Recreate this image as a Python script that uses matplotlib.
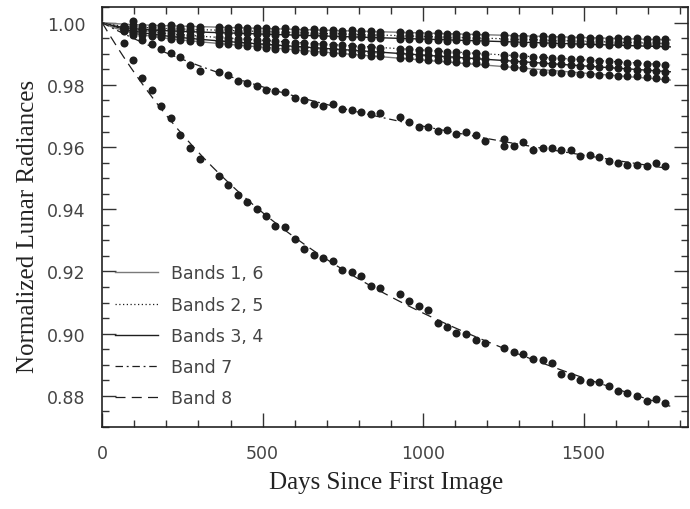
"""Relative lunar radiance trends per band, with fitted degradation curves."""

import matplotlib
matplotlib.use("Agg")
import matplotlib.pyplot as plt
import numpy as np
from matplotlib.ticker import MultipleLocator

# Observation epochs (days since first lunar image)
days = [68, 96, 125, 154, 183, 214, 244, 275, 304,
        363, 392, 422, 451, 481, 511, 540, 570, 600, 630, 659, 689, 718,
        748, 777, 808, 837, 867,
        927, 956, 986, 1015, 1046, 1075, 1104, 1134, 1164, 1193,
        1253, 1282, 1312, 1342, 1372, 1400, 1430, 1460, 1489, 1519, 1548,
        1578, 1607, 1636, 1666, 1696, 1726, 1755]

band1 = [0.9990, 1.0004, 0.9991, 0.9989, 0.9990, 0.9993, 0.9987, 0.9988, 0.9985,
         0.9986, 0.9984, 0.9985, 0.9983, 0.9982, 0.9983, 0.9980, 0.9982, 0.9979,
         0.9978, 0.9979, 0.9976, 0.9977, 0.9974, 0.9975, 0.9972, 0.9973, 0.9970,
         0.9969, 0.9967, 0.9968, 0.9965, 0.9966, 0.9963, 0.9964, 0.9962, 0.9963, 0.9960,
         0.9959, 0.9957, 0.9958, 0.9955, 0.9956, 0.9953, 0.9955, 0.9952, 0.9953,
         0.9951, 0.9952, 0.9949, 0.9950, 0.9948, 0.9950, 0.9947, 0.9948, 0.9946]
band2 = [0.9985, 0.9992, 0.9984, 0.9983, 0.9981, 0.9982, 0.9979, 0.9980, 0.9977,
         0.9976, 0.9977, 0.9974, 0.9975, 0.9972, 0.9973, 0.9971, 0.9969, 0.9970,
         0.9967, 0.9968, 0.9965, 0.9966, 0.9963, 0.9964, 0.9961, 0.9962, 0.9959,
         0.9958, 0.9956, 0.9957, 0.9954, 0.9955, 0.9952, 0.9953, 0.9950, 0.9951, 0.9948,
         0.9947, 0.9945, 0.9946, 0.9943, 0.9944, 0.9942, 0.9943, 0.9940, 0.9941,
         0.9939, 0.9940, 0.9938, 0.9939, 0.9937, 0.9938, 0.9936, 0.9937, 0.9936]
band3 = [0.9980, 0.9986, 0.9978, 0.9976, 0.9975, 0.9976, 0.9972, 0.9973, 0.9970,
         0.9969, 0.9968, 0.9966, 0.9967, 0.9964, 0.9965, 0.9962, 0.9963, 0.9960,
         0.9959, 0.9960, 0.9957, 0.9958, 0.9955, 0.9954, 0.9955, 0.9952, 0.9951,
         0.9949, 0.9946, 0.9947, 0.9944, 0.9945, 0.9942, 0.9943, 0.9940, 0.9941, 0.9939,
         0.9937, 0.9935, 0.9936, 0.9933, 0.9934, 0.9932, 0.9933, 0.9931, 0.9932,
         0.9930, 0.9931, 0.9929, 0.9930, 0.9928, 0.9929, 0.9927, 0.9928, 0.9926]
band4 = [0.9978, 0.9972, 0.9968, 0.9964, 0.9960, 0.9957, 0.9953, 0.9950, 0.9947,
         0.9942, 0.9940, 0.9937, 0.9935, 0.9932, 0.9930, 0.9928, 0.9925, 0.9923,
         0.9921, 0.9919, 0.9917, 0.9915, 0.9913, 0.9911, 0.9909, 0.9907, 0.9905,
         0.9902, 0.9900, 0.9897, 0.9895, 0.9893, 0.9891, 0.9889, 0.9887, 0.9885, 0.9883,
         0.9879, 0.9877, 0.9875, 0.9872, 0.9870, 0.9868, 0.9866, 0.9864, 0.9862,
         0.9860, 0.9858, 0.9856, 0.9854, 0.9851, 0.9849, 0.9847, 0.9844, 0.9842]
band5 = [0.9982, 0.9978, 0.9975, 0.9972, 0.9968, 0.9966, 0.9962, 0.9960, 0.9957,
         0.9953, 0.9951, 0.9948, 0.9947, 0.9944, 0.9943, 0.9940, 0.9938, 0.9936,
         0.9934, 0.9933, 0.9930, 0.9929, 0.9927, 0.9926, 0.9923, 0.9922, 0.9920,
         0.9917, 0.9915, 0.9913, 0.9911, 0.9910, 0.9907, 0.9906, 0.9903, 0.9902, 0.9900,
         0.9897, 0.9895, 0.9893, 0.9891, 0.9889, 0.9887, 0.9886, 0.9883, 0.9882,
         0.9880, 0.9878, 0.9876, 0.9875, 0.9872, 0.9871, 0.9868, 0.9866, 0.9863]
band6 = [0.9974, 0.9966, 0.9962, 0.9957, 0.9953, 0.9949, 0.9945, 0.9942, 0.9938,
         0.9933, 0.9930, 0.9927, 0.9925, 0.9922, 0.9919, 0.9917, 0.9914, 0.9912,
         0.9910, 0.9907, 0.9905, 0.9903, 0.9901, 0.9898, 0.9896, 0.9894, 0.9892,
         0.9888, 0.9886, 0.9883, 0.9881, 0.9879, 0.9876, 0.9874, 0.9872, 0.9869, 0.9866,
         0.9860, 0.9858, 0.9855, 0.9843, 0.9842, 0.9840, 0.9838, 0.9837, 0.9836,
         0.9834, 0.9833, 0.9832, 0.9830, 0.9829, 0.9827, 0.9824, 0.9822, 0.9820]
band7 = [0.9975, 0.9962, 0.9944, 0.9931, 0.9916, 0.9903, 0.9889, 0.9865, 0.9845,
         0.9840, 0.9831, 0.9811, 0.9806, 0.9798, 0.9785, 0.9780, 0.9777, 0.9759,
         0.9752, 0.9740, 0.9733, 0.9739, 0.9723, 0.9719, 0.9713, 0.9706, 0.9708,
         0.9696, 0.9680, 0.9666, 0.9666, 0.9653, 0.9655, 0.9641, 0.9648, 0.9639, 0.9618,
         0.9626, 0.9605, 0.9616, 0.9591, 0.9597, 0.9597, 0.9591, 0.9591, 0.9570,
         0.9575, 0.9567, 0.9554, 0.9549, 0.9541, 0.9541, 0.9538, 0.9549, 0.9540]
# band 7 was imaged twice in that lunation
band7_repeat_day = [1253]
band7_repeat_value = [0.9602]
band8 = [0.9936, 0.9880, 0.9822, 0.9782, 0.9731, 0.9692, 0.9638, 0.9597, 0.9562,
         0.9506, 0.9478, 0.9445, 0.9424, 0.9400, 0.9377, 0.9347, 0.9342, 0.9305,
         0.9273, 0.9252, 0.9244, 0.9232, 0.9204, 0.9199, 0.9185, 0.9154, 0.9146,
         0.9126, 0.9106, 0.9090, 0.9075, 0.9034, 0.9021, 0.9002, 0.9000, 0.8981, 0.8970,
         0.8954, 0.8941, 0.8933, 0.8917, 0.8915, 0.8907, 0.8869, 0.8864, 0.8852,
         0.8843, 0.8845, 0.8833, 0.8817, 0.8809, 0.8798, 0.8782, 0.8790, 0.8778]

GRAY = "#7a7a7a"
INK = "#1e1e1e"
TEXT = "#444444"
STYLES = {
    "Bands 1, 6": dict(color=GRAY, linestyle="-", lw=1.0),
    "Bands 2, 5": dict(color=INK, linestyle=(0, (1, 2)), lw=0.9),
    "Bands 3, 4": dict(color=INK, linestyle="-", lw=1.0),
    "Band 7": dict(color=INK, linestyle=(0, (6, 3, 1.5, 3)), lw=0.9),
    "Band 8": dict(color=INK, linestyle=(0, (8, 5)), lw=0.9),
}


def fit_decay(t, v, t_out):
    """Least-squares fit of 1 + a*(1 - exp(-t/tau)) + b*t, tau from a grid."""
    t = np.asarray(t, float)
    y = np.asarray(v, float) - 1.0
    best = None
    for tau in np.geomspace(20, 5000, 200):
        A = np.column_stack([1 - np.exp(-t / tau), t])
        coef = np.linalg.lstsq(A, y, rcond=None)[0]
        err = np.sum((A @ coef - y) ** 2)
        if best is None or err < best[0]:
            best = (err, tau, coef)
    _, tau, coef = best
    return 1.0 + coef[0] * (1 - np.exp(-t_out / tau)) + coef[1] * t_out


label_font = dict(family="Liberation Serif", size=18, color="#222222")
tick_font = "DejaVu Sans"

fig = plt.figure(figsize=(6.9, 5.1), dpi=100)
ax = fig.add_axes([0.148, 0.161, 0.849, 0.823])

t_fit = np.linspace(0, 1770, 400)
series = [
    (days, band1, "Bands 1, 6"),
    (days, band2, "Bands 2, 5"),
    (days, band3, "Bands 3, 4"),
    (days, band4, "Bands 3, 4"),
    (days, band5, "Bands 2, 5"),
    (days, band6, "Bands 1, 6"),
    (days + band7_repeat_day, band7 + band7_repeat_value, "Band 7"),
    (days, band8, "Band 8"),
]

handles = {}
for t, v, key in series:
    (line,) = ax.plot(t_fit, fit_decay(t, v, t_fit), zorder=2, **STYLES[key])
    handles.setdefault(key, line)
    ax.plot(t, v, "o", color=INK, ms=5.8, mec="none", zorder=3)

ax.set_xlim(0, 1825)
ax.set_ylim(0.87, 1.005)
ax.xaxis.set_major_locator(MultipleLocator(500))
ax.xaxis.set_minor_locator(MultipleLocator(100))
ax.yaxis.set_major_locator(MultipleLocator(0.02))
ax.yaxis.set_minor_locator(MultipleLocator(0.005))
ax.yaxis.set_major_formatter(lambda y, _: f"{y:.2f}")

ax.tick_params(which="both", direction="in", top=True, right=True,
               width=1.0, color="#333333", labelcolor=TEXT,
               labelsize=12.5, pad=12)
ax.tick_params(which="major", length=10)
ax.tick_params(which="minor", length=5)
for lab in ax.get_xticklabels() + ax.get_yticklabels():
    lab.set_family(tick_font)
for spine in ax.spines.values():
    spine.set_linewidth(1.2)
    spine.set_color("#222222")

ax.set_xlabel("Days Since First Image", fontdict=label_font)
ax.set_ylabel("Normalized Lunar Radiances", fontdict=label_font)
ax.xaxis.set_label_coords(0.484, -0.105)
ax.yaxis.set_label_coords(-0.108, 0.48)

order = ["Bands 1, 6", "Bands 2, 5", "Bands 3, 4", "Band 7", "Band 8"]
leg = ax.legend([handles[k] for k in order], order, loc="lower left",
                bbox_to_anchor=(0.022, 0.047), frameon=False,
                handlelength=2.45, handletextpad=0.75, labelspacing=0.76,
                borderpad=0, borderaxespad=0,
                prop=dict(family=tick_font, size=12.5))
for txt in leg.get_texts():
    txt.set_color(TEXT)

fig.savefig("out.png", dpi=100)
